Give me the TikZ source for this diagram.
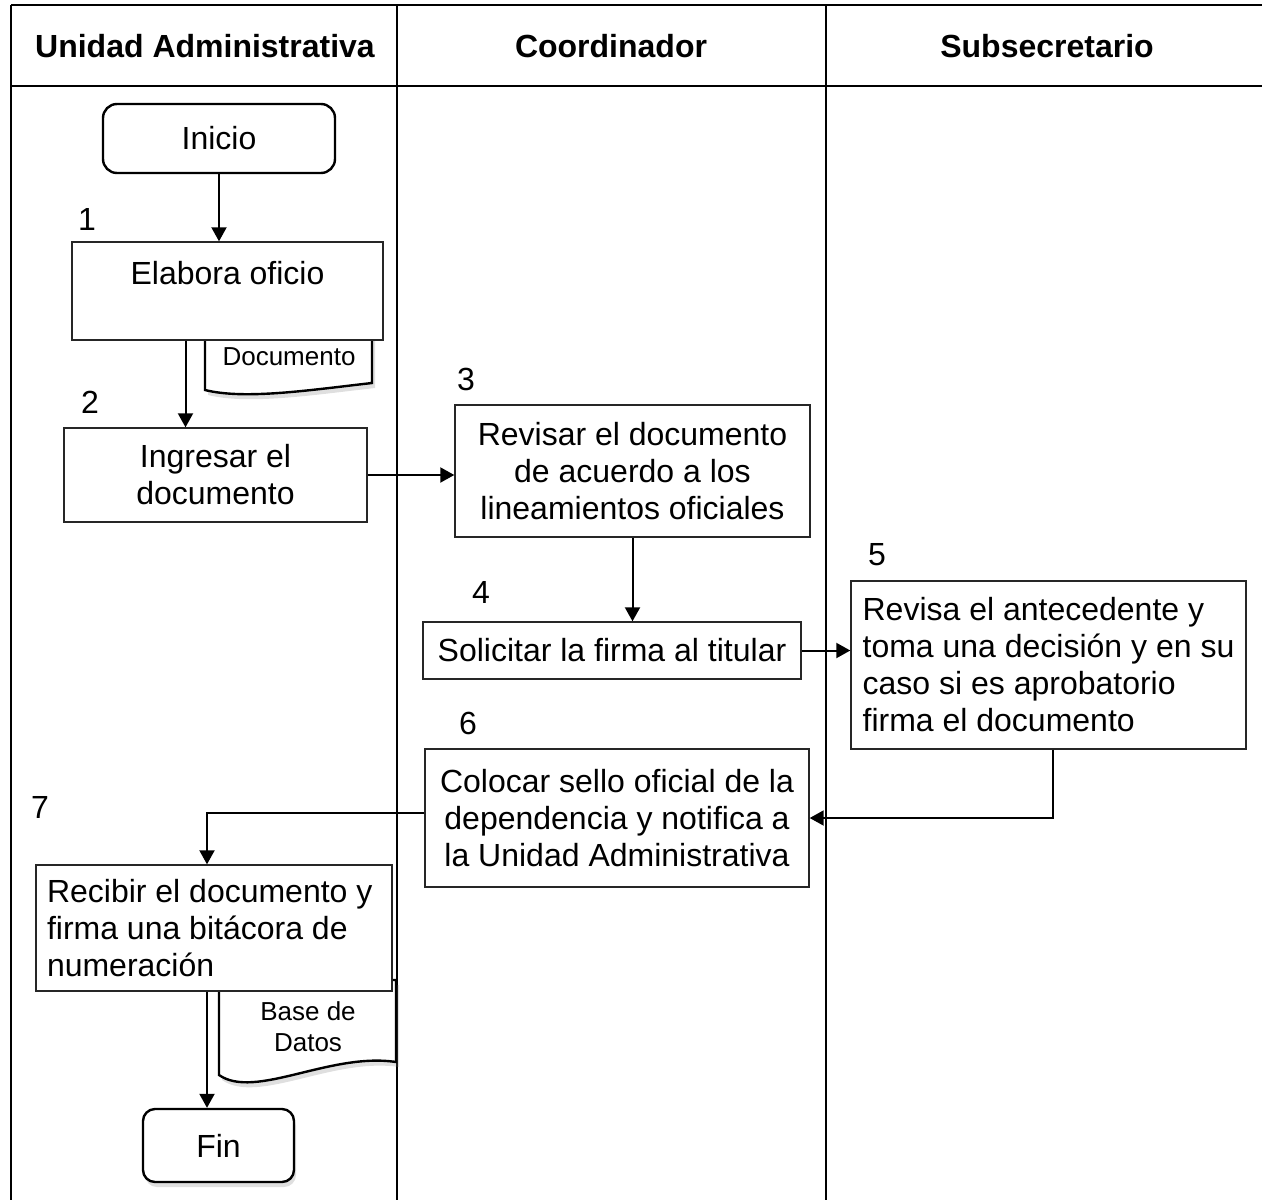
\documentclass[tikz,border=0pt]{standalone}
\usepackage{fontspec}
\setmainfont{Liberation Sans}
\usetikzlibrary{arrows.meta}
\usetikzlibrary{shadows}

\begin{document}
\begin{tikzpicture}[
        x=0.5pt, y=-0.5pt,
        font=\fontsize{16}{18.5}\selectfont,
        box/.style={rectangle, draw=black!85, line width=0.7pt, fill=white, align=center},
        terminal/.style={rectangle, rounded corners=7pt, draw=black, line width=1.2pt, fill=white},
        header/.style={font=\fontsize{16}{18.5}\selectfont\bfseries},
        stepnum/.style={inner sep=0pt},
        docshape/.style={draw=black, line width=1.2pt, fill=white, drop shadow={shadow xshift=1.5pt, shadow yshift=-2.5pt, opacity=0.25}},
        doclabel/.style={font=\fontsize{13}{15.5}\selectfont, align=center},
        lane/.style={line width=1pt},
        arrow/.style={-{Triangle[length=7pt, width=7.5pt]}, line width=1pt}
        ]

        \clip (0,0) rectangle (1262,1199);

        % Lanes
        \draw[lane] (11,5) -- (1270,5);
        \draw[lane] (11,86) -- (1270,86);
        \draw[lane] (11,5) -- (11,1210);
        \draw[lane] (397,5) -- (397,1210);
        \draw[lane] (826,5) -- (826,1210);
        \node[header] (unidad) at (205,46) {Unidad Administrativa};
        \node[header] (coordinador) at (611,46) {Coordinador};
        \node[header] (subsecretario) at (1047,46) {Subsecretario};

        % Documents
        \draw[docshape] (205,330) -- (205,390) .. controls (245,400) and (310,390) .. (372,383) -- (372,330) -- cycle;
        \draw[docshape] (219,980) -- (219,1075) .. controls (255,1100) and (330,1052) .. (396,1062) -- (396,980) -- cycle;

        % Nodes
        \node[terminal, minimum width=116pt, minimum height=34.5pt] (inicio) at (219,138.5) {Inicio};
        \node[box, minimum width=155.5pt, minimum height=49pt] (elabora) at (227.5,291) {Elabora oficio\\~};
        \node[doclabel] (documento) at (289,357) {Documento};
        \node[box, minimum width=151.5pt, minimum height=47pt] (ingresar) at (215.5,475) {Ingresar el\\documento};
        \node[box, minimum width=177.5pt, minimum height=66pt] (revisar) at (632.5,471) {Revisar el documento\\de acuerdo a los\\lineamientos oficiales};
        \node[box, minimum width=189pt, minimum height=28.5pt] (solicitar) at (612,650.5) {Solicitar la firma al titular};
        \node[box, align=left, minimum width=197.5pt, minimum height=84pt] (revisa) at (1048.5,665) {Revisa el antecedente y\\toma una decisión y en su\\caso si es aprobatorio\\firma el documento};
        \node[box, minimum width=192pt, minimum height=69pt] (colocar) at (617,818) {Colocar sello oficial de la\\dependencia y notifica a\\la Unidad Administrativa};
        \node[box, align=left, text width=167pt, inner xsep=5.5pt, minimum height=63pt] (recibir) at (214,928) {\spaceskip=0pt\xspaceskip=0pt Recibir el documento y\\firma una bitácora de\\numeración};
        \node[doclabel] (basedatos) at (308,1027) {Base de\\Datos};
        \node[terminal, rounded corners=6pt, minimum width=75.5pt, minimum height=36.5pt, drop shadow={shadow xshift=1pt, shadow yshift=-2.5pt, opacity=0.25}] (fin) at (218.5,1145.5) {Fin};

        % Step numbers
        \node[stepnum] (paso1) at (87,219) {1};
        \node[stepnum] (paso2) at (90,402) {2};
        \node[stepnum] (paso3) at (466,379) {3};
        \node[stepnum] (paso4) at (481,592) {4};
        \node[stepnum] (paso5) at (877,555) {5};
        \node[stepnum] (paso6) at (468,723) {6};
        \node[stepnum] (paso7) at (40,807) {7};

        % Arrows
        \draw[arrow] (inicio) -- (inicio |- elabora.north);
        \draw[arrow] ([xshift=-21pt]elabora.south) -- ([xshift=-21pt]elabora.south |- ingresar.north);
        \draw[arrow] (ingresar.east) -- (ingresar.east -| revisar.west);
        \draw[arrow] (revisar.south) -- (revisar.south |- solicitar.north);
        \draw[arrow] (solicitar.east) -- (solicitar.east -| revisa.west);
        \draw[arrow] ([xshift=2pt]revisa.south) |- (colocar.east);
        \draw[arrow] ([yshift=2.5pt]colocar.west) -| ([xshift=-3.5pt]recibir.north);
        \draw[arrow] ([xshift=-3.5pt]recibir.south) -- ([xshift=-3.5pt]recibir.south |- fin.north);

    \end{tikzpicture}
\end{document}
